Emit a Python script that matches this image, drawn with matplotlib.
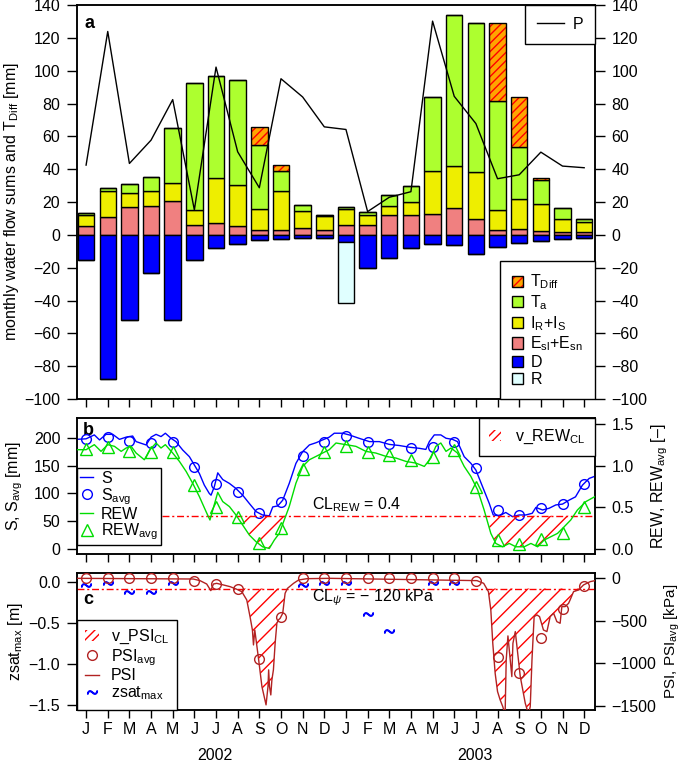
import matplotlib
matplotlib.use('Agg')
import matplotlib.pyplot as plt
import numpy as np
from matplotlib.patches import Patch
from matplotlib.lines import Line2D
from matplotlib.transforms import blended_transform_factory

plt.rcParams['font.family'] = 'Liberation Sans'
plt.rcParams['font.size'] = 11.5
plt.rcParams['mathtext.fontset'] = 'custom'
plt.rcParams['mathtext.rm'] = 'Liberation Sans'
plt.rcParams['mathtext.it'] = 'Liberation Sans:italic'
plt.rcParams['hatch.linewidth'] = 1.0
plt.rcParams['axes.linewidth'] = 1.1

months = ['J', 'F', 'M', 'A', 'M', 'J', 'J', 'A', 'S', 'O', 'N', 'D'] * 2
years = ['2002', '2003']
nan = np.nan

# panel a: monthly water flow sums [mm], Jan 2002 .. Dec 2003
esl = [5.7, 11.1, 16.8, 17.8, 20.4, 5.9, 7.1, 5.3, 2.8, 3.2, 4.0, 2.8,
       6.1, 5.9, 12.1, 12.1, 13.0, 16.4, 9.5, 3.0, 3.8, 2.2, 1.6, 1.6]
irs = [6.4, 15.8, 8.5, 9.1, 11.4, 9.3, 27.7, 25.1, 12.8, 23.3, 10.8, 8.9,
       9.9, 6.0, 5.5, 8.1, 25.9, 25.3, 29.0, 12.0, 18.1, 16.6, 8.1, 6.5]
ta = [1.0, 1.6, 5.5, 8.1, 33.2, 77.3, 62.2, 63.9, 38.9, 12.6, 3.6, 0.4,
      0.8, 1.9, 6.7, 9.7, 45.1, 92.1, 90.4, 66.6, 31.9, 14.4, 6.5, 1.6]
tdiff = [0, 0, 0, 0, 0, 0, 0, 0, 11.5, 3.4, 0, 0,
         0, 0, 0, 0, 0, 0, 0, 47.3, 30.2, 1.6, 0, 0]
drain = [-15.2, -87.8, -51.6, -23.0, -51.6, -15.2, -7.9, -5.3, -3.4, -2.8, -2.2, -2.2,
         -4.5, -19.9, -13.8, -7.7, -5.5, -5.9, -11.6, -7.5, -4.9, -3.5, -2.8, -2.2]
runoff = [0, 0, 0, 0, 0, 0, 0, 0, 0, 0, 0, 0,
          -36.8, 0, 0, 0, 0, 0, 0, 0, 0, 0, 0, 0]
precip = [42.5, 123.9, 43.5, 57.7, 82.4, 15.2, 102.2, 50.6, 28.7, 95.1, 84.0, 65.8,
          64.2, 14.2, 22.9, 26.3, 130.2, 84.4, 67.8, 34.2, 36.6, 50.4, 41.9, 40.9]

# panel b: daily soil water S [mm] and REW [-] (x in months from Jan 2002)
s_x = [-0.46, 0.0, 0.38, 0.62, 0.92, 1.23, 1.54, 1.85, 2.15, 2.31, 2.77, 3.0, 3.23,
       3.46, 3.66, 3.92, 4.15, 4.46, 4.77, 5.0, 5.23, 5.46, 5.69, 5.77, 5.92, 6.08,
       6.31, 6.62, 6.92, 7.23, 7.54, 7.85, 8.15, 8.46, 8.62, 8.85, 9.08, 9.38, 9.69,
       10.0, 10.31, 10.62, 10.92, 11.23, 11.46, 11.85, 12.15, 12.6, 13.08, 13.54,
       14.0, 14.46, 14.92, 15.38, 15.69, 15.85, 16.08, 16.38, 16.62, 16.92, 17.15,
       17.46, 17.77, 18.0, 18.31, 18.62, 18.8, 19.08, 19.38, 19.69, 20.0, 20.3,
       20.6, 20.77, 21.08, 21.38, 21.69, 22.0, 22.3, 22.6, 22.92, 23.23, 23.5]
s_day = [197, 198, 205, 196, 206, 206, 197, 201, 203, 193, 187, 201, 206,
         202, 208, 199, 193, 178, 166, 151, 136, 115, 100, 97, 112, 137,
         125, 118, 109, 97, 82, 67.5, 61.5, 60, 76, 77.7, 88, 118, 154,
         175, 187, 191, 196, 201, 208, 208, 205, 199, 193, 193,
         188, 186, 183, 181, 179, 193, 205, 205, 199, 197, 193,
         166, 154, 142, 112, 82, 61.5, 60, 66, 58.5, 61.5, 61.5,
         64.5, 75, 70.5, 73.5, 79.5, 81, 88, 94, 115, 127, 131]
rew_x = [-0.46, 0.0, 0.38, 0.69, 1.0, 1.31, 1.62, 1.85, 2.08, 2.31, 2.69, 2.95,
         3.23, 3.46, 3.66, 4.0, 4.31, 4.62, 4.92, 5.23, 5.54, 5.72, 5.85, 6.08,
         6.31, 6.62, 6.92, 7.23, 7.54, 7.85, 8.15, 8.46, 8.69, 8.92, 9.15, 9.38,
         9.69, 10.0, 10.31, 10.62, 10.92, 11.23, 11.54, 12.0, 12.46, 12.92, 13.38,
         13.85, 14.31, 14.77, 15.23, 15.62, 15.92, 16.15, 16.38, 16.62, 16.85,
         17.15, 17.46, 17.77, 18.08, 18.38, 18.69, 18.92, 19.23, 19.54, 19.85,
         20.23, 20.54, 20.85, 21.15, 21.46, 21.77, 22.08, 22.38, 22.69, 23.08, 23.5]
rew_day = [1.19, 1.19, 1.25, 1.17, 1.25, 1.23, 1.17, 1.21, 1.23, 1.15, 1.07, 1.19,
           1.27, 1.21, 1.25, 1.15, 1.05, 0.93, 0.79, 0.63, 0.45, 0.35, 0.47, 0.68,
           0.57, 0.51, 0.41, 0.29, 0.17, 0.09, 0.03, 0.01, 0.11, 0.19, 0.35, 0.51,
           0.79, 0.99, 1.07, 1.11, 1.15, 1.19, 1.27, 1.25, 1.23, 1.17, 1.15,
           1.11, 1.09, 1.05, 1.03, 0.99, 1.09, 1.23, 1.27, 1.17, 1.21,
           1.15, 0.99, 0.87, 0.71, 0.47, 0.19, 0.07, 0.03, 0.07, 0.03,
           0.03, 0.07, 0.03, 0.11, 0.15, 0.19, 0.27, 0.35, 0.47, 0.57, 0.63]
s_avg = [197.7, 201.8, 194.6, 191.0, 192.8, 147.0, 117.0, 102.0, 65.6, 84.2, 167.7, 192.8,
         203.0, 192.8, 188.2, 181.0, 183.9, 192.8, 145.2, 70.4, 61.5, 73.5, 80.6, 116.5]
rew_avg = [1.195, 1.226, 1.178, 1.166, 1.166, 0.768, 0.509, 0.389, 0.072, 0.251, 0.956, 1.166,
           1.234, 1.159, 1.127, 1.067, 1.099, 1.187, 0.74, 0.111, 0.063, 0.119, 0.198, 0.509]
cl_rew = 0.4

# panel c: soil water potential PSI [kPa] and zsat_max [m]
psi_x = [-0.43, 4.95, 5.26, 5.57, 5.76, 5.88, 6.03, 6.34, 6.65, 6.96, 7.19, 7.42,
         7.57, 7.68, 7.73, 7.79, 7.97, 8.12, 8.31, 8.40, 8.43, 8.47, 8.53, 8.58,
         8.65, 8.73, 8.81, 8.88, 8.96, 9.08, 9.19, 9.30, 9.58, 9.81, 10.2,
         11.27, 18.05, 18.36, 18.58, 18.69, 18.78, 18.89, 19.0, 19.12, 19.24, 19.35,
         19.40, 19.48, 19.66, 19.71, 19.82, 20.05, 20.28, 20.43, 20.51, 20.59, 20.69,
         20.82, 20.94, 21.12, 21.28, 21.43, 21.59, 21.74, 21.89, 21.97, 22.12, 22.28,
         22.35, 22.51, 22.74, 22.97, 23.28, 23.5]
psi_day = [0, -8, -27, -67, -145, -67, -59, -78, -98, -129, -157, -255,
           -451, -608, -784, -608, -961, -1275, -1490, -1275, -1078, -1275, -1373, -1196,
           -1078, -765, -529, -490, -471, -412, -176, -118, -59, -20, -4,
           0, -27, -59, -157, -373, -765, -1118, -1333, -1431, -1510, -1600,
           -961, -678, -1157, -765, -627, -1157, -1471, -1600, -1510, -961, -451,
           -431, -451, -608, -627, -451, -412, -510, -529, -333, -333, -294,
           -255, -157, -137, -78, -39, -27]
psi_avg = [0, 0, 0, 0, 0, -27, -67, -129, -953, -451, 0, 0,
           0, 0, 0, 0, 0, 0, -27, -922, -1110, -706, -365, -86]
zsat_max = [-0.033, -0.012, -0.115, -0.122, -0.012, nan, nan, nan, nan, nan, -0.033, -0.012,
            -0.012, -0.39, -0.59, nan, -0.012, -0.012, nan, nan, nan, nan, nan, nan]
cl_psi = -120

c_ta = '#ADFF2F'
c_irs = '#EEEE00'
c_esl = '#F08080'
c_d = '#0000FF'
c_r = '#E0FFFF'
c_tdiff = '#FFA500'
c_rew = '#00DD00'
c_psi = '#B22222'
cl_style = (0, (5, 2, 1.5, 2))

idx = np.arange(24)
w = 0.76
xlim = (-0.42, 23.5)

fig = plt.figure(figsize=(6.85, 7.63), dpi=100)
ax_a = fig.add_axes([0.1124, 0.477, 0.7562, 0.5164])
ax_b = fig.add_axes([0.1124, 0.2735, 0.7562, 0.1783])
ax_c = fig.add_axes([0.1124, 0.0695, 0.7562, 0.1791])

def style(ax, labels=False):
    ax.set_xlim(*xlim)
    ax.set_xticks(idx)
    ax.set_xticklabels(months if labels else [])
    ax.tick_params(axis='x', direction='out', length=6, width=1, pad=3)
    ax.tick_params(axis='y', direction='out', length=7, width=1, pad=5)

# ---- panel a ----
esl_a = np.array(esl)
irs_a = np.array(irs)
ta_a = np.array(ta)
ax_a.bar(idx, esl_a, w, color=c_esl, edgecolor='black', lw=1)
ax_a.bar(idx, irs_a, w, bottom=esl_a, color=c_irs, edgecolor='black', lw=1)
ax_a.bar(idx, ta_a, w, bottom=esl_a + irs_a, color=c_ta, edgecolor='black', lw=1)
top = esl_a + irs_a + ta_a
ax_a.bar(idx, tdiff, w, bottom=top, color=c_tdiff, edgecolor='red', hatch='////', lw=0)
ax_a.bar(idx, tdiff, w, bottom=top, fill=False, edgecolor='black', lw=1)
ax_a.bar(idx, drain, w, color=c_d, edgecolor='black', lw=1)
ax_a.bar(idx, runoff, w, bottom=drain, color=c_r, edgecolor='black', lw=1)
ax_a.set_ylim(-100, 140)
ax_a.set_yticks(np.arange(-100, 141, 20))
ax_a.set_ylabel(r'monthly water flow sums and T$_{\mathrm{Diff}}$ [mm]')
ax_a.yaxis.set_label_coords(-0.108, 0.5)
style(ax_a)
ax_a.text(0.014, 0.975, 'a', transform=ax_a.transAxes, fontweight='bold',
          fontsize=13, va='top', ha='left')

ax_a2 = ax_a.twinx()
ax_a2.plot(idx, precip, color='black', lw=1)
ax_a2.set_ylim(-100, 140)
ax_a2.set_yticks(np.arange(-100, 141, 20))
ax_a2.tick_params(axis='y', direction='out', length=7, width=1, pad=5)

leg_p = ax_a2.legend([Line2D([], [], color='black', lw=1)], ['P'], loc='upper right',
                     borderaxespad=0, fancybox=False, edgecolor='black',
                     handlelength=1.7, handletextpad=0.5, borderpad=0.75, framealpha=1)
leg_p.get_frame().set_linewidth(1)
ax_a2.add_artist(leg_p)

h_tdiff = (Patch(facecolor=c_tdiff, edgecolor='red', hatch='////', lw=0),
           Patch(fill=False, edgecolor='black', lw=1))
bar_handles = [h_tdiff] + [Patch(facecolor=c, edgecolor='black', lw=1)
                           for c in [c_ta, c_irs, c_esl, c_d, c_r]]
bar_labels = [r'T$_{\mathrm{Diff}}$', r'T$_{\mathrm{a}}$', r'I$_{\mathrm{R}}$+I$_{\mathrm{S}}$',
              r'E$_{\mathrm{sl}}$+E$_{\mathrm{sn}}$', 'D', 'R']
leg_a = ax_a2.legend(bar_handles, bar_labels, loc='lower right', borderaxespad=0,
                     fancybox=False, edgecolor='black', handlelength=0.7,
                     handleheight=0.7, labelspacing=0.12, borderpad=0.75,
                     handletextpad=0.45, framealpha=1)
leg_a.get_frame().set_linewidth(1)

# ---- panel b ----
ax_b.set_ylim(-9, 234.8)
ax_b.set_yticks([0, 50, 100, 150, 200])
ax_b.set_ylabel(r'S, S$_{\mathrm{avg}}$ [mm]')
ax_b.yaxis.set_label_coords(-0.1, 0.5)
style(ax_b)
ax_b.plot(s_x, s_day, color='blue', lw=1, zorder=3)
ax_b.plot(idx, s_avg, 'o', mfc='none', mec='blue', ms=7, mew=1, zorder=4)
ax_b.text(0.012, 0.975, 'b', transform=ax_b.transAxes, fontweight='bold',
          fontsize=13, va='top', ha='left')

ax_b2 = ax_b.twinx()
ax_b2.set_ylim(-9 / 150, 234.8 / 150)
ax_b2.set_yticks([0, 0.5, 1.0, 1.5])
ax_b2.set_yticklabels(['0.0', '0.5', '1.0', '1.5'])
ax_b2.tick_params(axis='y', direction='out', length=7, width=1, pad=5)
ax_b2.set_ylabel(r'REW, REW$_{\mathrm{avg}}$ [–]')
ax_b2.yaxis.set_label_coords(1.106, 0.5)
rew_arr = np.array(rew_day)
ax_b2.fill_between(rew_x, rew_arr, cl_rew, where=rew_arr < cl_rew, interpolate=True,
                   facecolor='none', edgecolor='red', hatch='//', lw=0, zorder=1)
ax_b2.hlines(cl_rew, 3.5, xlim[1], colors='red', linestyles=cl_style, lw=1, zorder=2)
ax_b2.plot(rew_x, rew_day, color=c_rew, lw=1, zorder=3)
ax_b2.plot(idx, rew_avg, '^', mfc='none', mec=c_rew, ms=8, mew=1, zorder=4)
ax_b2.text(10.45, 0.53, r'CL$_{\mathrm{REW}}$ = 0.4', ha='left', va='center')

leg_b1 = ax_b2.legend([Line2D([], [], color='blue', lw=1),
                       Line2D([], [], ls='none', marker='o', mfc='none', mec='blue', ms=7),
                       Line2D([], [], color=c_rew, lw=1),
                       Line2D([], [], ls='none', marker='^', mfc='none', mec=c_rew, ms=8)],
                      ['S', r'S$_{\mathrm{avg}}$', 'REW', r'REW$_{\mathrm{avg}}$'],
                      loc='lower left', bbox_to_anchor=(0, 0.065), borderaxespad=0,
                      fancybox=False, edgecolor='black', handlelength=0.8,
                      labelspacing=0.0, borderpad=0.2, handletextpad=0.5, framealpha=1)
leg_b1.get_frame().set_linewidth(1)
ax_b2.add_artist(leg_b1)
leg_b2 = ax_b2.legend([Patch(facecolor='none', edgecolor='red', hatch='////', lw=0)],
                      [r'v_REW$_{\mathrm{CL}}$'], loc='upper right', borderaxespad=0,
                      fancybox=False, edgecolor='black', handlelength=0.75,
                      handleheight=0.75, borderpad=0.6, handletextpad=0.9, framealpha=1)
leg_b2.get_frame().set_linewidth(1)

# ---- panel c ----
ax_c.set_ylim(-1.561, 0.11)
ax_c.set_yticks([0, -0.5, -1.0, -1.5])
ax_c.set_yticklabels(['0.0', '\u22120.5', '\u22121.0', '\u22121.5'])
ax_c.set_ylabel(r'zsat$_{\mathrm{max}}$ [m]')
ax_c.yaxis.set_label_coords(-0.1, 0.5)
style(ax_c, labels=True)
ax_c.plot(idx, zsat_max, ls='none', marker=r'$\sim$', color='blue', ms=7, zorder=4)
ax_c.text(0.012, 0.81, 'c', transform=ax_c.transAxes, fontweight='bold',
          fontsize=13, va='center', ha='left')

ax_c2 = ax_c.twinx()
ax_c2.set_ylim(-1550, 59)
ax_c2.set_yticks([0, -500, -1000, -1500])
ax_c2.tick_params(axis='y', direction='out', length=7, width=1, pad=5)
ax_c2.set_ylabel(r'PSI, PSI$_{\mathrm{avg}}$ [kPa]', fontsize=11)
ax_c2.yaxis.set_label_coords(1.13, 0.5)
psi_arr = np.array(psi_day)
ax_c2.fill_between(psi_x, psi_arr, cl_psi, where=psi_arr < cl_psi, interpolate=True,
                   facecolor='none', edgecolor='red', hatch='//', lw=0, zorder=1)
ax_c2.axhline(cl_psi, color='red', ls=cl_style, lw=1, zorder=2)
ax_c2.plot(psi_x, psi_day, color=c_psi, lw=1, zorder=3)
ax_c2.plot(idx, psi_avg, 'o', mfc='none', mec=c_psi, ms=7, mew=1, zorder=4)
ax_c2.text(10.45, -232, 'CL$_{\\psi}$ = \u2212 120 kPa', ha='left', va='center')

leg_c = ax_c2.legend([Patch(facecolor='none', edgecolor='red', hatch='////', lw=0),
                      Line2D([], [], ls='none', marker='o', mfc='none', mec=c_psi, ms=7),
                      Line2D([], [], color=c_psi, lw=1),
                      Line2D([], [], ls='none', marker=r'$\sim$', color='blue', ms=7)],
                     [r'v_PSI$_{\mathrm{CL}}$', r'PSI$_{\mathrm{avg}}$', 'PSI',
                      r'zsat$_{\mathrm{max}}$'],
                     loc='lower left', borderaxespad=0, fancybox=False, edgecolor='black',
                     handlelength=0.9, handleheight=0.7, labelspacing=0.05, borderpad=0.5,
                     handletextpad=0.7, framealpha=1)
leg_c.get_frame().set_linewidth(1)

trans = blended_transform_factory(ax_c.transData, ax_c.transAxes)
ax_c.text(5.95, -0.33, years[0], transform=trans, ha='center', va='center')
ax_c.text(17.95, -0.33, years[1], transform=trans, ha='center', va='center')

fig.savefig('out.png', dpi=100)
